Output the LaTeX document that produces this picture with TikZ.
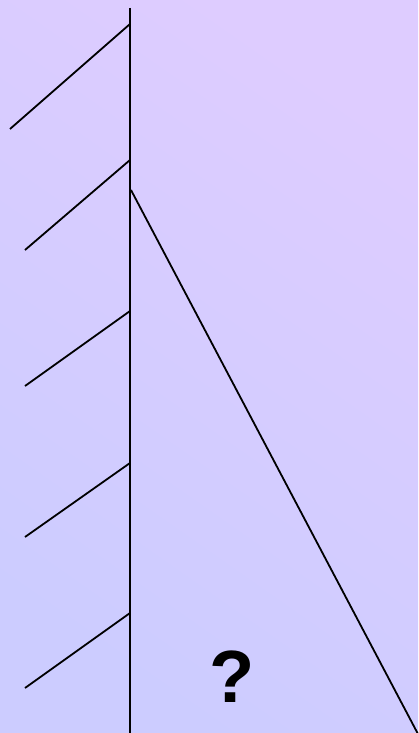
\documentclass[tikz,border=0pt]{standalone}
\usepackage{fontspec}
\setmainfont{Liberation Sans}
\definecolor{bgA}{RGB}{204,204,255}
\definecolor{bgB}{RGB}{222,204,255}
\begin{document}
\begin{tikzpicture}[x=1pt,y=-1pt,
  ln/.style={line width=1.8pt,black}]
\shade[bottom color=bgA,top color=bgB,shading angle=-35] (0,0) rectangle (418,733);
\useasboundingbox (0,0) rectangle (418,733);
\coordinate (top) at (130,8);
\coordinate (bot) at (130,733);
\draw[ln] (top) -- (bot);
\foreach \ya/\xb/\yb in {24/10/129, 160/25/250, 311/25/386, 463/25/537, 613/25/688}{
  \draw[ln] (130,\ya) -- (\xb,\yb);
}
\coordinate (d1) at (131,190);
\coordinate (d2) at (418,734);
\draw[ln] (d1) -- (d2);
\node[font=\fontsize{74}{80}\selectfont\bfseries,inner sep=0pt] (q) at (232,677) {?};
\end{tikzpicture}
\end{document}
